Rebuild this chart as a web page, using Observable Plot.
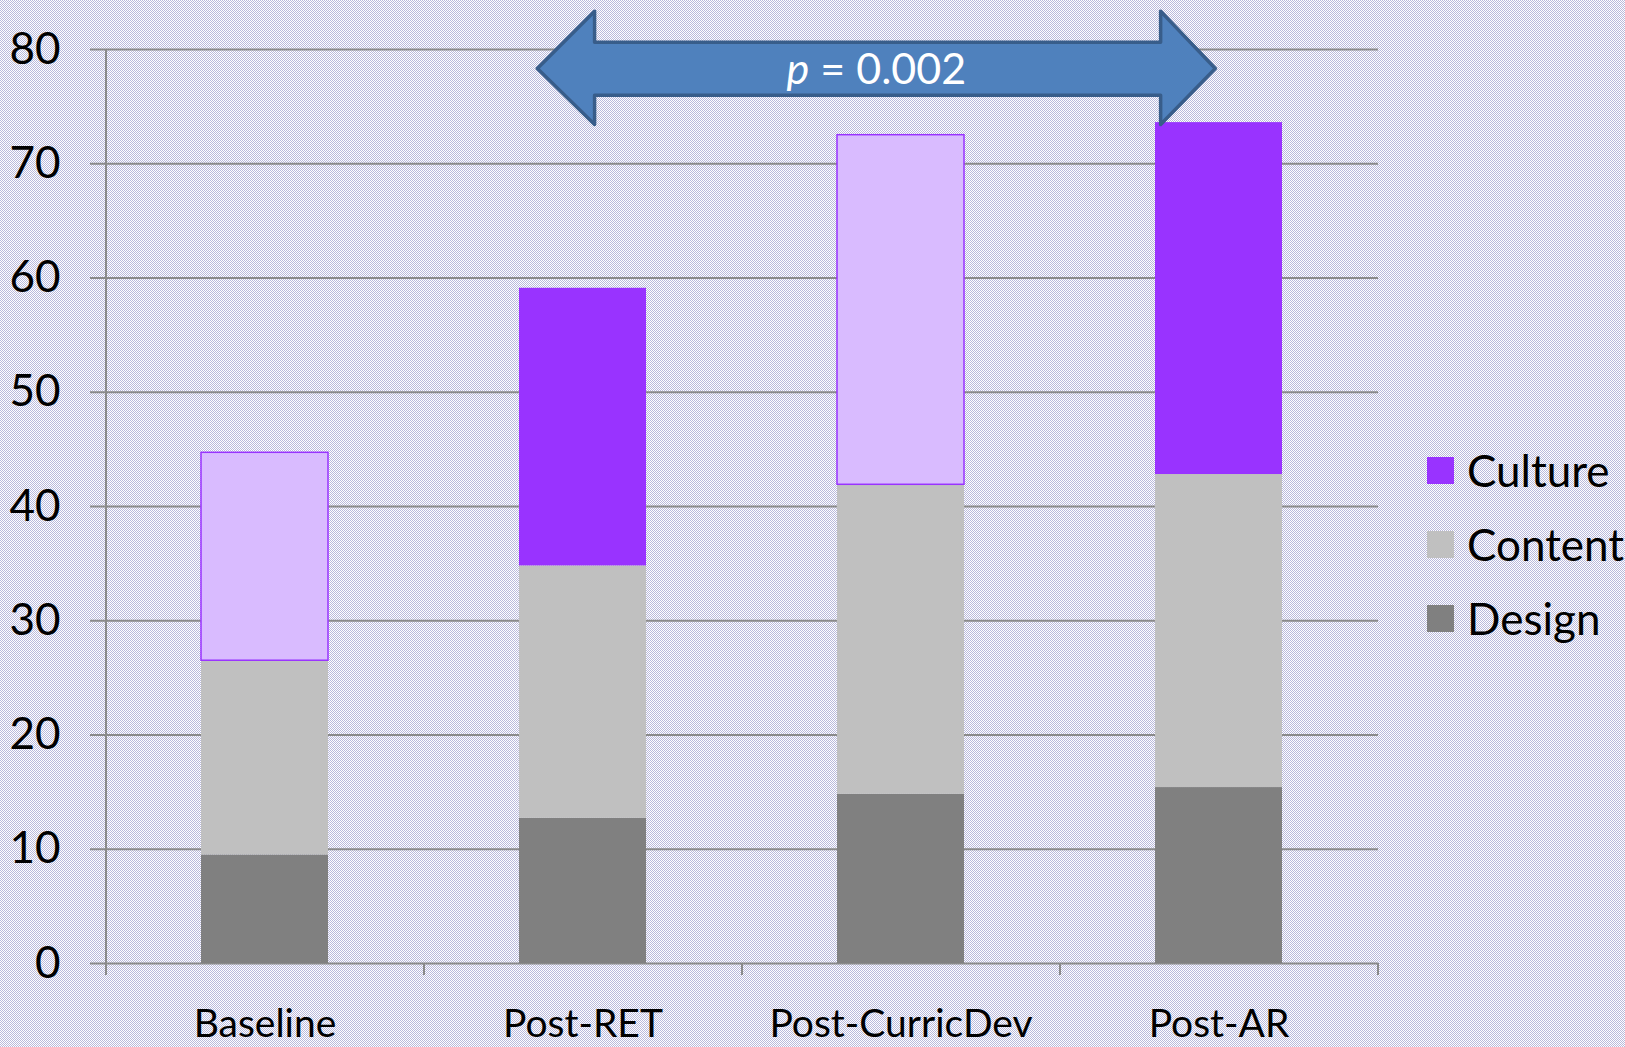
<!DOCTYPE html>
<html>
<head>
<meta charset="utf-8">
<script src="https://cdn.jsdelivr.net/npm/d3@7"></script>
<script src="https://cdn.jsdelivr.net/npm/@observablehq/plot@0.6"></script>
<style>
html, body { margin: 0; padding: 0; }
#wrap {
  position: relative; width: 1625px; height: 1047px; overflow: hidden;
  background-color: #ffffff;
  background-image: repeating-conic-gradient(#ffffff 0 25%, #b9b9dc 0 50%);
  background-size: 2px 2px;
  font-family: Lato, "Open Sans", sans-serif;
}
#wrap svg { position: absolute; left: 0; top: 0; overflow: visible; }
#legend { position: absolute; left: 1427px; top: 433px; }
.li { display: flex; align-items: center; height: 74px; font-size: 44px; color: #000; }
.sw { width: 27px; height: 27px; margin-right: 13px; }
</style>
</head>
<body>
<div id="wrap"><div id="legend"></div></div>
<script>
// ---- data ----
const categories = ["Baseline", "Post-RET", "Post-CurricDev", "Post-AR"];
const seriesNames = ["Design", "Content", "Culture"];
const designValues = [9.5, 12.7, 14.8, 15.4];
const contentValues = [17.0, 22.1, 27.1, 27.4];
const cultureValues = [18.2, 24.3, 30.6, 30.8];
const cultureHighlighted = [false, true, false, true];
const yTicks = [0, 10, 20, 30, 40, 50, 60, 70, 80];
const legendOrder = ["Culture", "Content", "Design"];
const arrowFrom = "Post-RET";
const arrowTo = "Post-AR";
const pValue = "0.002";

// ---- styles ----
const colors = {Design: "#808080", Content: "#c0c0c0", Culture: "#9933ff"};
const cultureLight = "#d9bbff";
const gridColor = "#8a8a8a";

const rows = [];
categories.forEach((c, i) => {
  rows.push({category: c, series: "Design", value: designValues[i], hi: true});
  rows.push({category: c, series: "Content", value: contentValues[i], hi: true});
  rows.push({category: c, series: "Culture", value: cultureValues[i], hi: cultureHighlighted[i]});
});

const W = 1625, H = 1047;
const mL = 106, mR = 247, mT = 49, mB = 84;
const step = (W - mL - mR) / categories.length;

function arrowMark(index, scales, values, dims) {
  const x = scales.x, y = scales.y;
  const bw = typeof x.bandwidth === "function" ? x.bandwidth() : (x.bandwidth || 0);
  const c1 = x(arrowFrom) + bw / 2, c2 = x(arrowTo) + bw / 2;
  const xl = c1 - 0.142 * step, xlb = c1 + 0.038 * step;
  const xrb = c2 - 0.182 * step, xr = c2 - 0.01 * step;
  const yt = y(83.3), yst = y(80.6), ym = y(78.3), ysb = y(75.95), yb = y(73.4);
  const pts = [[xl, ym], [xlb, yt], [xlb, yst], [xrb, yst], [xrb, yt], [xr, ym], [xrb, yb], [xrb, ysb], [xlb, ysb], [xlb, yb]];
  const g = d3.create("svg:g");
  g.append("path")
    .attr("d", "M" + pts.map(p => p.join(",")).join("L") + "Z")
    .attr("fill", "#4f81bd").attr("stroke", "#385d8a")
    .attr("stroke-width", 3.5).attr("stroke-linejoin", "round");
  const t = g.append("text")
    .attr("x", (xl + xr) / 2).attr("y", ym).attr("dy", "0.36em")
    .attr("text-anchor", "middle").attr("fill", "#ffffff")
    .attr("font-size", 43).attr("font-family", "Lato, sans-serif");
  t.append("tspan").attr("font-style", "italic").text("p");
  t.append("tspan").text(" = " + pValue);
  return g.node();
}

const chart = Plot.plot({
  width: W, height: H,
  marginLeft: mL, marginRight: mR, marginTop: mT, marginBottom: mB,
  style: {background: "transparent", fontFamily: "Lato, sans-serif", overflow: "visible"},
  x: {domain: categories, paddingInner: 0.6, paddingOuter: 0.3, label: null},
  y: {domain: [0, 80], label: null},
  marks: [
    Plot.ruleY(yTicks, {stroke: gridColor, strokeWidth: 2}),
    Plot.rectY(rows, Plot.stackY({
      x: "category", y: "value", order: null,
      fill: d => d.series === "Culture" && !d.hi ? cultureLight : colors[d.series],
      stroke: d => d.series === "Culture" && !d.hi ? "#9933ff" : "none",
      strokeWidth: 1.5
    })),
    Plot.axisY({ticks: yTicks, tickSize: 16, tickPadding: 30, fontSize: 44,
      stroke: gridColor, strokeWidth: 2, fill: "#000", tickFormat: d => String(d), label: null}),
    Plot.axisX({tickSize: 0, tickPadding: 46, fontSize: 39, fill: "#000", label: null}),
    // vertical axis line
    Plot.ruleX([categories[0]], {dx: -step / 2, stroke: gridColor, strokeWidth: 2, insetBottom: -12}),
    // category boundary ticks
    Plot.ruleX(categories, {y1: 0, y2: 0, dx: -step / 2, insetBottom: -12, stroke: gridColor, strokeWidth: 2}),
    Plot.ruleX([categories[categories.length - 1]], {y1: 0, y2: 0, dx: step / 2, insetBottom: -12, stroke: gridColor, strokeWidth: 2}),
    arrowMark
  ]
});
document.getElementById("wrap").appendChild(chart);

const legend = document.getElementById("legend");
legendOrder.forEach(s => {
  const row = document.createElement("div");
  row.className = "li";
  const sw = document.createElement("div");
  sw.className = "sw";
  sw.style.background = colors[s];
  const tx = document.createElement("span");
  tx.textContent = s;
  row.appendChild(sw); row.appendChild(tx);
  legend.appendChild(row);
});
</script>
</body>
</html>
